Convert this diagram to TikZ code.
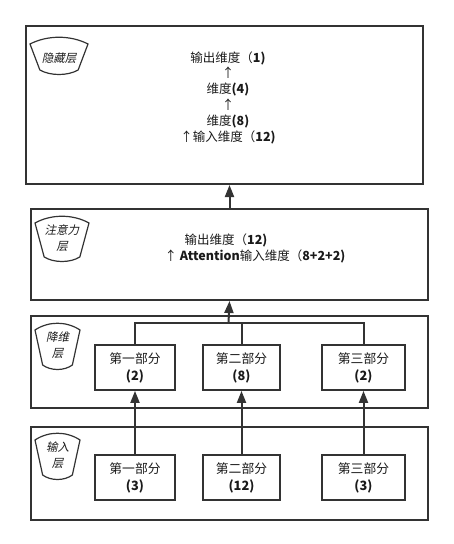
\documentclass[tikz,border=0pt]{standalone}
\usepackage{fontspec}
\setmainfont{Noto Sans CJK SC}
\newfontfamily\cjkit[FakeSlant=0.22]{Noto Sans CJK SC}
\usetikzlibrary{arrows.meta}
\definecolor{ln}{HTML}{333333}
\definecolor{tx}{HTML}{1a1a1a}
\newcommand\fantag[4]{%
  \draw[ln, line width=1.2pt, fill=white]
    (#1,#2+7) .. controls ({#1+0.3*(#3-#1)},#2-2) and ({#3-0.3*(#3-#1)},#2-2) .. (#3,#2+7)
    -- ({#3-0.17*(#3-#1)},#4-6)
    .. controls ({#3-0.35*(#3-#1)},#4) and ({#1+0.35*(#3-#1)},#4) .. ({#1+0.17*(#3-#1)},#4-6)
    -- cycle;}
\tikzset{
  layer/.style={draw=ln, line width=2pt, rectangle, anchor=north west, inner sep=0pt},
  part/.style={draw=ln, line width=1.8pt, rectangle, minimum height=45pt, align=center,
    inner sep=0pt, text=tx, font=\fontsize{12.8}{17}\selectfont},
  conn/.style={draw=ln, line width=2pt},
  arr/.style={conn, -{Triangle[length=12pt,width=9pt]}},
  tagtxt/.style={font=\cjkit\fontsize{11.5}{16}\selectfont, align=center, inner sep=0pt, text=tx},
  txt/.style={font=\fontsize{12.5}{16}\selectfont, align=center, inner sep=0pt, text=tx},
}
\begin{document}
\begin{tikzpicture}[x=1pt, y=-1pt]
\useasboundingbox (0,0) rectangle (453,544);

% layer boxes
\node[layer, minimum width=397pt, minimum height=158.5pt] (hid) at (25,24.5) {};
\node[layer, minimum width=397pt, minimum height=91pt] (att) at (30,208) {};
\node[layer, minimum width=397pt, minimum height=92pt] (red) at (30,315) {};
\node[layer, minimum width=397pt, minimum height=93pt] (inp) at (30,426) {};

% tags
\fantag{30}{37}{88}{76}
\node[tagtxt] (thid) at (59,58) {隐藏层};
\fantag{35}{216}{89}{263}
\node[tagtxt] (tatt) at (62,238) {注意力\\层};
\fantag{35}{323}{80}{371}
\node[tagtxt] (tred) at (57.5,345) {降维\\层};
\fantag{35}{433}{80}{481}
\node[tagtxt] (tinp) at (57.5,455) {输入\\层};

% hidden layer text
\node[txt, font=\fontsize{12.5}{15.8}\selectfont] (htext) at (228,97.5)
  {输出维度（\textbf{1)}\\↑\\维度\textbf{(4)}\\↑\\维度\textbf{(8)}\\↑输入维度（\textbf{12)}};

% attention text
\node[txt] (at1) at (226,240) {输出维度（\textbf{12)}};
\node[txt] (at2) at (255,256) {↑ \textbf{Attention}输入维度（\textbf{8+2+2)}};

% reduce parts
\node[part, minimum width=80pt] (r1) at (135,367.5) {第一部分\\\textbf{(2)}};
\node[part, minimum width=77pt] (r2) at (241.5,367.5) {第二部分\\\textbf{(8)}};
\node[part, minimum width=83pt] (r3) at (363.5,367.5) {第三部分\\\textbf{(2)}};

% input parts
\node[part, minimum width=80pt] (i1) at (135,477.5) {第一部分\\\textbf{(3)}};
\node[part, minimum width=77pt] (i2) at (241.5,477.5) {第二部分\\\textbf{(12)}};
\node[part, minimum width=83pt] (i3) at (363.5,477.5) {第三部分\\\textbf{(3)}};

% connectors
\draw[arr] (att.north) -- (att.north |- hid.south);
\coordinate (j) at (228.5,323);
\draw[conn] (r1.north) -- (r1.north |- j) -- (r3.north |- j) -- (r3.north);
\draw[conn] (r2.north) -- (r2.north |- j);
\draw[arr] (j) -- (att.south);
\draw[arr] (i1.north) -- (r1.south);
\draw[arr] (i2.north) -- (r2.south);
\draw[arr] (i3.north) -- (r3.south);
\end{tikzpicture}
\end{document}
